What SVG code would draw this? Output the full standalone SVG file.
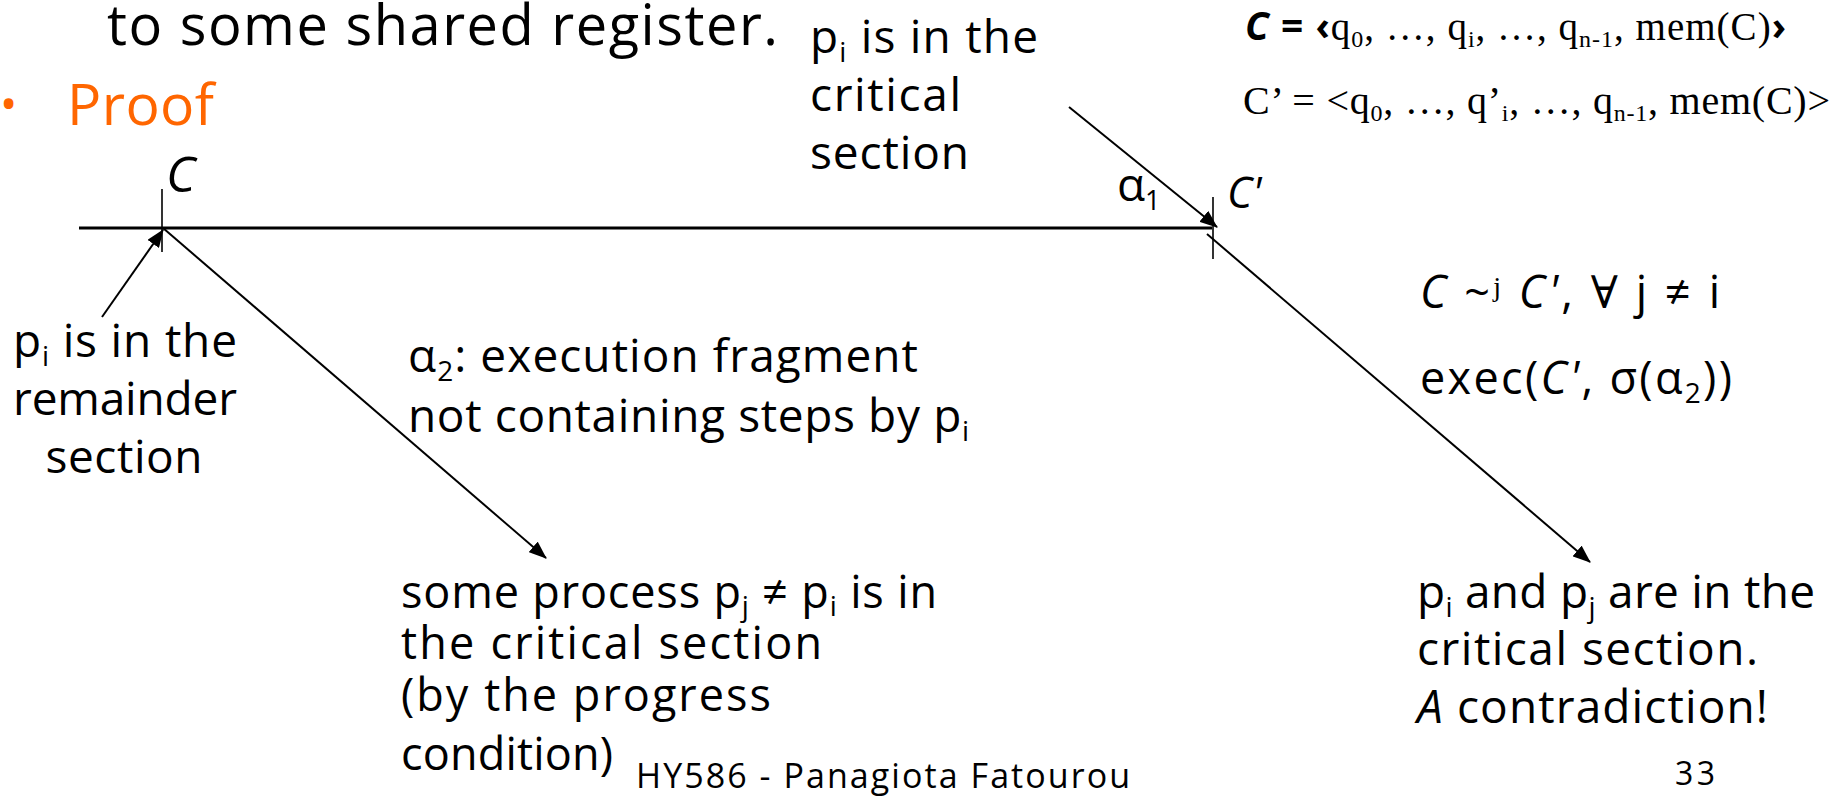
<svg xmlns="http://www.w3.org/2000/svg" width="1830" height="796" viewBox="0 0 1830 796">
<style>
.t{font-family:"Open Sans","DejaVu Sans",sans-serif;fill:#000;font-size:46px}
.or{fill:#FF6600}
.serif{font-family:"Liberation Serif","DejaVu Serif",serif}
.it{font-style:italic}
.sb{font-size:28px}
.ln{stroke:#000;stroke-width:2;fill:none}
.tick{stroke:#000;stroke-width:1.6}
</style>
<defs>
<marker id="ah" markerWidth="18" markerHeight="14" refX="17" refY="7" orient="auto" markerUnits="userSpaceOnUse">
<path d="M0,0 L18,7 L0,14 z" fill="#000"/>
</marker>
</defs>
<rect width="1830" height="796" fill="#fff"/>

<g id="title">
<text class="t" x="107" y="45" style="font-size:56px" textLength="671">to some shared register.</text>
<text class="t or" x="0" y="120" style="font-size:46px">•</text>
<text class="t or" x="67" y="125" style="font-size:57px" textLength="147">Proof</text>
</g>

<g id="connectors">
<line x1="79" y1="228" x2="1212" y2="228" stroke="#000" stroke-width="3"/>
<line class="tick" x1="162" y1="189" x2="162" y2="252"/>
<line class="tick" x1="1213" y1="197" x2="1213" y2="259"/>
<line class="ln" x1="102" y1="317" x2="163" y2="230" marker-end="url(#ah)"/>
<line class="ln" x1="163" y1="228" x2="546" y2="558" marker-end="url(#ah)"/>
<line class="ln" x1="1069" y1="107" x2="1217" y2="227" marker-end="url(#ah)"/>
<line class="ln" x1="1207" y1="234" x2="1590" y2="562" marker-end="url(#ah)"/>
</g>

<g id="node-C">
<text class="t it" x="166" y="192" style="font-size:50px">C</text>
</g>

<g id="node-Cprime">
<text class="t it" x="1227" y="208" style="font-size:43px">C'</text>
<text class="t" x="1117" y="201" style="font-size:46px">α<tspan class="sb" dy="9" style="font-size:27px">1</tspan></text>
</g>

<g id="label-critical">
<text class="t" x="810" y="53" textLength="228">p<tspan class="sb" dy="9">i</tspan><tspan dy="-9"> is in the</tspan></text>
<text class="t" x="810" y="111" textLength="151">critical</text>
<text class="t" x="810" y="169" textLength="159">section</text>
</g>

<g id="label-remainder">
<text class="t" x="125" y="357" text-anchor="middle" textLength="224">p<tspan class="sb" dy="9">i</tspan><tspan dy="-9"> is in the</tspan></text>
<text class="t" x="125" y="415" text-anchor="middle" textLength="224">remainder</text>
<text class="t" x="124" y="473" text-anchor="middle" textLength="157">section</text>
</g>

<g id="label-alpha2">
<text class="t" x="408" y="372" textLength="510">α<tspan class="sb" dy="9">2</tspan><tspan dy="-9">: execution fragment</tspan></text>
<text class="t" x="408" y="432" textLength="561">not containing steps by p<tspan class="sb" dy="9">i</tspan></text>
</g>

<g id="label-progress">
<text class="t" x="401" y="608" style="font-size:45px" textLength="536">some process p<tspan class="sb" dy="8">j</tspan><tspan dy="-8"> ≠ p</tspan><tspan class="sb" dy="8">i</tspan><tspan dy="-8"> is in</tspan></text>
<text class="t" x="401" y="659" style="font-size:45px" textLength="421">the critical section</text>
<text class="t" x="401" y="711" style="font-size:45px" textLength="370">(by the progress</text>
<text class="t" x="401" y="770" style="font-size:45px" textLength="212">condition)</text>
</g>

<g id="label-contradiction">
<text class="t" x="1417" y="608" textLength="398">p<tspan class="sb" dy="9">i</tspan><tspan dy="-9"> and p</tspan><tspan class="sb" dy="9">j</tspan><tspan dy="-9"> are in the</tspan></text>
<text class="t" x="1417" y="665" textLength="341">critical section.</text>
<text class="t" x="1417" y="723" textLength="351"><tspan class="it">A</tspan> contradiction!</text>
</g>

<g id="label-equiv">
<text class="t" x="1420" y="308" style="font-size:45px" textLength="300"><tspan class="it">C</tspan> ~<tspan class="serif" style="font-size:28px" dy="-12">j</tspan><tspan dy="12"> </tspan><tspan class="it">C'</tspan>, <tspan class="serif">∀</tspan> j ≠ i</text>
<text class="t" x="1420" y="394" style="font-size:45px" textLength="312">exec(<tspan class="it">C'</tspan>, σ(α<tspan class="sb" dy="9">2</tspan><tspan dy="-9">))</tspan></text>
</g>

<g id="config-defs">
<text class="serif" x="1245" y="40" style="font-size:39px" textLength="541"><tspan style="font-family:'Open Sans',sans-serif;font-weight:bold;font-style:italic">C</tspan><tspan style="font-family:'Open Sans',sans-serif;font-weight:bold"> = ‹</tspan>q<tspan style="font-size:24px" dy="7">0</tspan><tspan dy="-7">, …, q</tspan><tspan style="font-size:24px" dy="7">i</tspan><tspan dy="-7">, …, q</tspan><tspan style="font-size:24px" dy="7">n-1</tspan><tspan dy="-7">, mem(C)</tspan><tspan style="font-family:'Open Sans',sans-serif;font-weight:bold">›</tspan></text>
<text class="serif" x="1243" y="114" style="font-size:40px" textLength="587">C’ = &lt;q<tspan style="font-size:24px" dy="7">0</tspan><tspan dy="-7">, …, q’</tspan><tspan style="font-size:24px" dy="7">i</tspan><tspan dy="-7">, …, q</tspan><tspan style="font-size:24px" dy="7">n-1</tspan><tspan dy="-7">, mem(C)&gt;</tspan></text>
</g>

<g id="footer">
<text class="t" x="636" y="788" style="font-size:34px" textLength="494">HY586 - Panagiota Fatourou</text>
<text class="t" x="1675" y="785" style="font-size:32px" textLength="40">33</text>
</g>
</svg>
